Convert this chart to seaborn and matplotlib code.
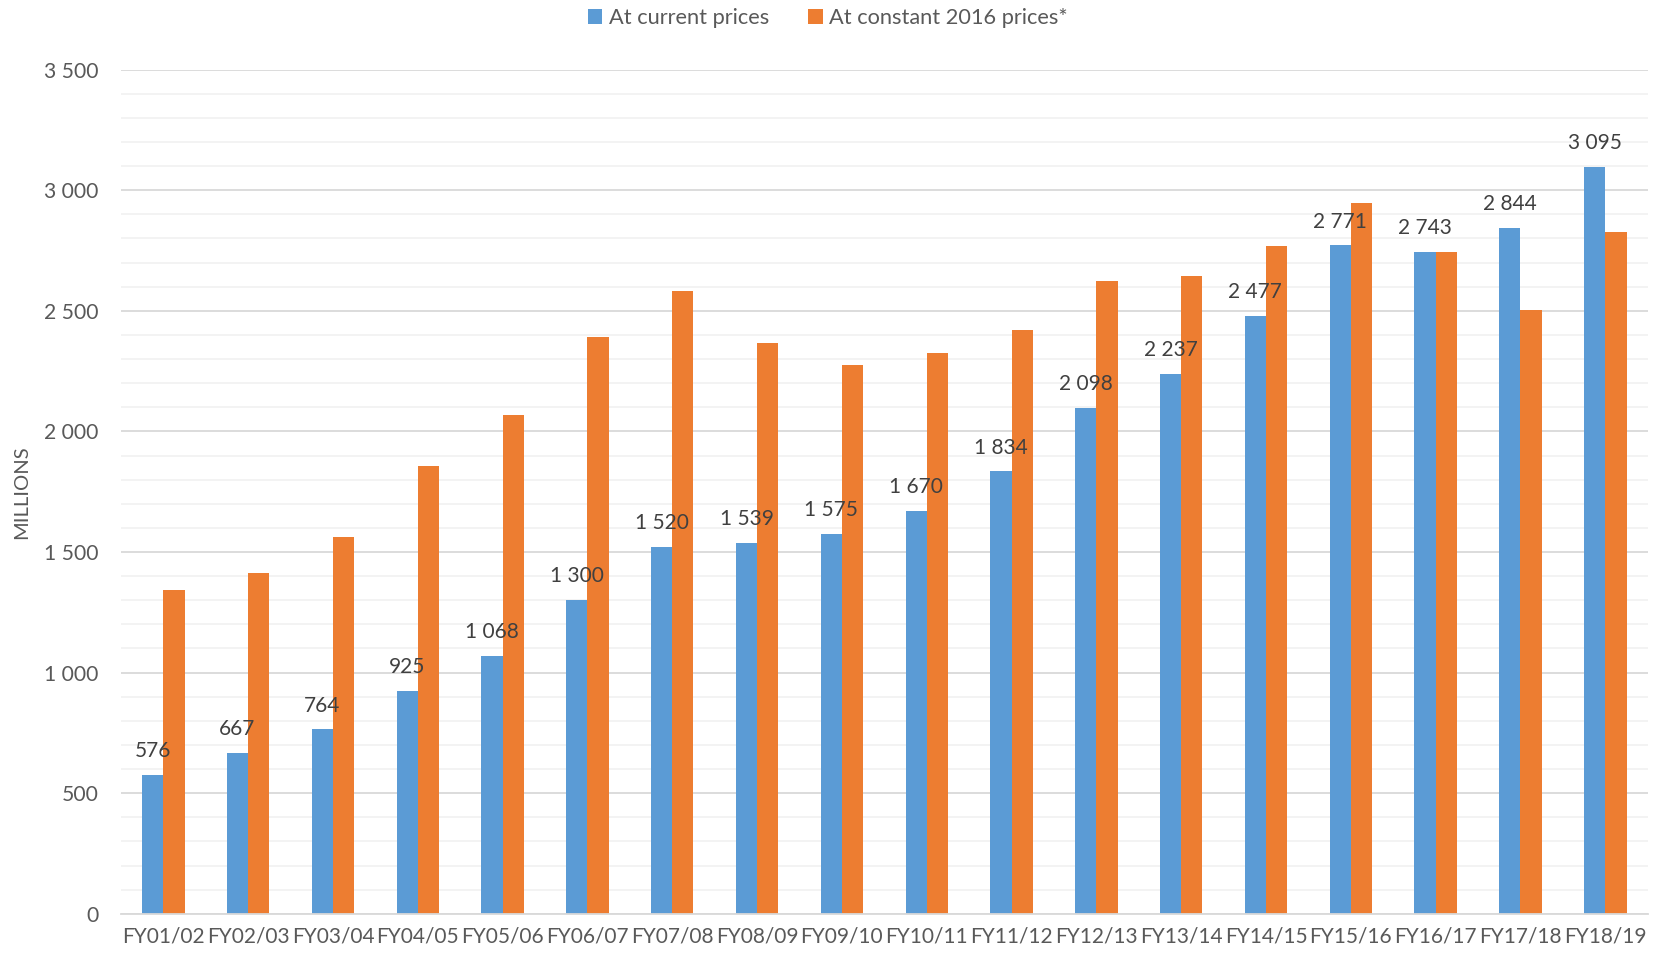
import matplotlib
matplotlib.use("Agg")
import matplotlib.pyplot as plt
import seaborn as sns
import pandas as pd
from matplotlib.ticker import MultipleLocator, FuncFormatter

categories = ["FY01/02", "FY02/03", "FY03/04", "FY04/05", "FY05/06", "FY06/07",
              "FY07/08", "FY08/09", "FY09/10", "FY10/11", "FY11/12", "FY12/13",
              "FY13/14", "FY14/15", "FY15/16", "FY16/17", "FY17/18", "FY18/19"]
current_prices = [576, 667, 764, 925, 1068, 1300, 1520, 1539, 1575, 1670, 1834, 2098,
                  2237, 2477, 2771, 2743, 2844, 3095]
constant_prices = [1344, 1411, 1563, 1856, 2068, 2393, 2582, 2368, 2277, 2325, 2420, 2624,
                   2643, 2770, 2947, 2743, 2505, 2826]
series_names = ["At current prices", "At constant 2016 prices*"]

df = pd.DataFrame({
    "cat": categories * 2,
    "value": current_prices + constant_prices,
    "series": [series_names[0]] * len(categories) + [series_names[1]] * len(categories),
})

sns.set_style("white")
plt.rcParams["font.family"] = ["Lato", "DejaVu Sans"]

fig = plt.figure(figsize=(16.56, 9.57), dpi=100)
ax = fig.add_axes([0.073, 0.0452, 0.922, 0.8820])

palette = {series_names[0]: "#5B9BD5", series_names[1]: "#ED7D31"}
sns.barplot(data=df, x="cat", y="value", hue="series", palette=palette,
            width=0.5, gap=0, ax=ax, saturation=1, legend=True,
            edgecolor="none", linewidth=0)

ax.set_ylim(0, 3500)
ax.set_xlim(-0.5, len(categories) - 0.5)
ax.yaxis.set_major_locator(MultipleLocator(500))
ax.yaxis.set_minor_locator(MultipleLocator(100))
ax.yaxis.set_major_formatter(FuncFormatter(lambda v, p: f"{int(v):,}".replace(",", " ")))
ax.grid(True, which="major", axis="y", color="#D9D9D9", linewidth=1.3, zorder=0)
ax.grid(True, which="minor", axis="y", color="#F2F2F2", linewidth=1.3, zorder=0)
ax.set_axisbelow(True)
for s in ["top", "right", "left"]:
    ax.spines[s].set_visible(False)
ax.spines["bottom"].set_color("#D9D9D9")
ax.spines["bottom"].set_linewidth(1.3)
ax.tick_params(axis="both", which="both", length=0, colors="#595959")
ax.tick_params(axis="y", labelsize=15.2, pad=16)
ax.tick_params(axis="x", labelsize=15, pad=9)
ax.set_xlabel("")
ax.set_ylabel("MILLIONS", fontsize=14.5, color="#595959", labelpad=10)

labels = [f"{v:,}".replace(",", " ") for v in current_prices]
ax.bar_label(ax.containers[0], labels=labels, padding=10, fontsize=15, color="#404040")

leg = ax.legend(loc="upper center", bbox_to_anchor=(0.5, 1.012), bbox_transform=fig.transFigure,
                ncol=2, frameon=False, fontsize=15.7, handlelength=0.65, handleheight=0.65,
                handletextpad=0.3, columnspacing=1.8)
for t in leg.get_texts():
    t.set_color("#595959")

fig.savefig("out.png", dpi=100)
